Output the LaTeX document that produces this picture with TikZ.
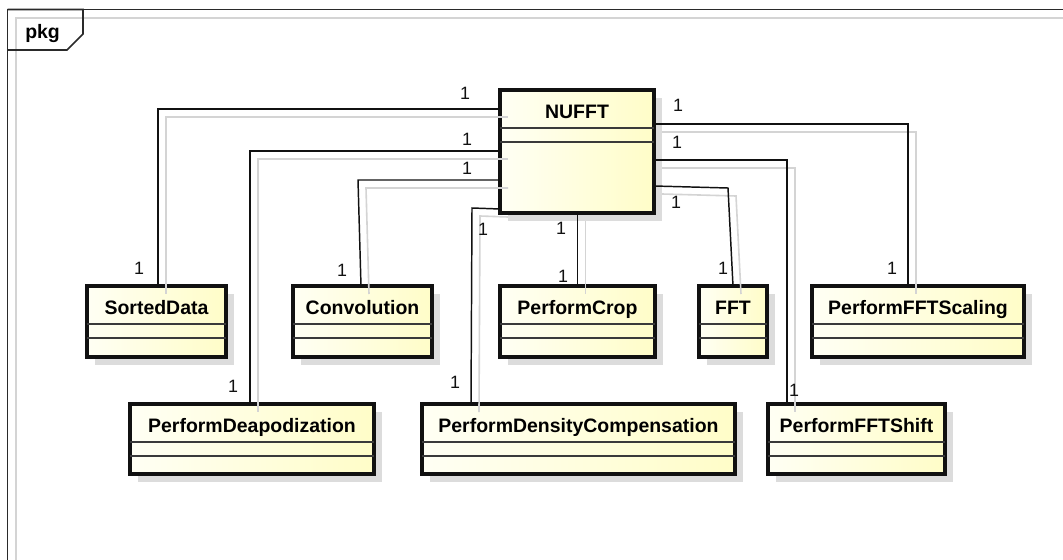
\documentclass[tikz,border=0pt]{standalone}
\usepackage{fontspec}
\setmainfont{Liberation Sans}
\usetikzlibrary{calc,fit}

\definecolor{boxshadow}{HTML}{DCDCDC}
\definecolor{lineshadow}{HTML}{D4D4D4}
\definecolor{fillL}{HTML}{FFFFF4}
\definecolor{fillR}{HTML}{FFFDC8}
\definecolor{ink}{HTML}{111111}
\definecolor{sepline}{HTML}{3A3A3A}
\definecolor{frameink}{HTML}{2A2A2A}

\tikzset{
  classbox/.style={draw=ink, line width=2.6pt, inner sep=0pt, outer sep=0pt,
                   left color=fillL, right color=fillR},
  compline/.style={draw=sepline, line width=1.1pt},
  classname/.style={font=\bfseries\fontsize{14.6}{16}\selectfont, anchor=base, inner sep=0pt},
  mult/.style={font=\fontsize{13.4}{15}\selectfont, text=ink, inner sep=0pt},
  assoc/.style={draw=ink, line width=1.1pt},
  assocshadow/.style={draw=lineshadow, line width=1.2pt},
  framestyle/.style={draw=frameink, line width=1.2pt},
}

% a class box: name, x1, y1, x2, y2, title (pixel coordinates, y downwards)
\newcommand\umlclass[6]{%
  \fill[boxshadow] (#2+8,#3+8) rectangle (#4+8,#5+8);
  \node[classbox, fit={(#2,#3)(#4,#5)}] (#1) {};
  \draw[compline] ($(#1.north west)+(0,38)$) -- ($(#1.north east)+(0,38)$);
  \draw[compline] ($(#1.north west)+(0,52)$) -- ($(#1.north east)+(0,52)$);
  \node[classname] at ($(#1.north)+(0,28)$) {#6};
}

\begin{document}
\begin{tikzpicture}[x=0.75pt, y=-0.75pt]
  \useasboundingbox (0,0) rectangle (1063,560);
  \fill[white] (0,0) rectangle (1063,560);

  % package frame with its shadow and name tab
  \draw[lineshadow, line width=1.2pt] (16,560) -- (16,18) -- (1063,18);
  \draw[framestyle] (7.5,560) -- (7.5,9.5) -- (1063,9.5);
  \draw[framestyle] (7.5,9.5) -- (83,9.5) -- (83,34) -- (67,50) -- (7.5,50);
  \node[font=\bfseries\fontsize{14.6}{16}\selectfont, anchor=base west, inner sep=0pt]
    (pkgname) at (25,39) {pkg};

  % classes
  \umlclass{nufft}{500}{90}{654}{213}{NUFFT}
  \umlclass{sorted}{87}{286}{226}{357}{SortedData}
  \umlclass{conv}{293}{286}{432}{357}{Convolution}
  \umlclass{crop}{500}{286}{655}{357}{PerformCrop}
  \umlclass{fft}{699}{286}{767}{357}{FFT}
  \umlclass{scaling}{812}{286}{1024}{357}{PerformFFTScaling}
  \umlclass{deapod}{130}{404}{374}{474}{PerformDeapodization}
  \umlclass{density}{422}{404}{735}{474}{PerformDensityCompensation}
  \umlclass{shift}{768}{404}{945}{474}{PerformFFTShift}

  % associations: soft shadow (offset 8px) first, then the line itself
  \foreach \sty/\d in {assocshadow/8, assoc/0} {
    \draw[\sty] ($(nufft.north west)+(\d,19+\d)$) -| ($(sorted.north west)+(71+\d,\d)$);
    \draw[\sty] ($(nufft.north west)+(\d,61+\d)$) -| ($(deapod.north west)+(120+\d,\d)$);
    \draw[\sty] ($(nufft.north west)+(\d,90+\d)$) -- ($(conv.north west)+(65+\d,-106+\d)$)
                -- ($(conv.north west)+(68+\d,\d)$);
    \draw[\sty] ($(nufft.south west)+(\d,-4+\d)$) -- ($(density.north west)+(50+\d,-196+\d)$)
                -- ($(density.north west)+(49+\d,\d)$);
    \draw[\sty] ($(nufft.south -| crop.north)+(\d,\d)$) -- ($(crop.north)+(\d,\d)$);
    \draw[\sty] ($(nufft.north east)+(\d,96+\d)$) -- ($(fft.north)+(-5+\d,-98+\d)$)
                -- ($(fft.north)+(\d,\d)$);
    \draw[\sty] ($(nufft.north east)+(\d,70+\d)$) -| ($(shift.north west)+(19+\d,\d)$);
    \draw[\sty] ($(nufft.north east)+(\d,34+\d)$) -| ($(scaling.north west)+(96+\d,\d)$);
  }

  % multiplicities
  \node[mult] (m1)  at (465,93)  {1};
  \node[mult] (m2)  at (139,268) {1};
  \node[mult] (m3)  at (467,139) {1};
  \node[mult] (m4)  at (233,386) {1};
  \node[mult] (m5)  at (467,168) {1};
  \node[mult] (m6)  at (342,270) {1};
  \node[mult] (m7)  at (483,229) {1};
  \node[mult] (m8)  at (455,382) {1};
  \node[mult] (m9)  at (561,228) {1};
  \node[mult] (m10) at (563,276) {1};
  \node[mult] (m11) at (676,202) {1};
  \node[mult] (m12) at (723,268) {1};
  \node[mult] (m13) at (677,142) {1};
  \node[mult] (m14) at (794,390) {1};
  \node[mult] (m15) at (678,105) {1};
  \node[mult] (m16) at (892,268) {1};
\end{tikzpicture}
\end{document}
